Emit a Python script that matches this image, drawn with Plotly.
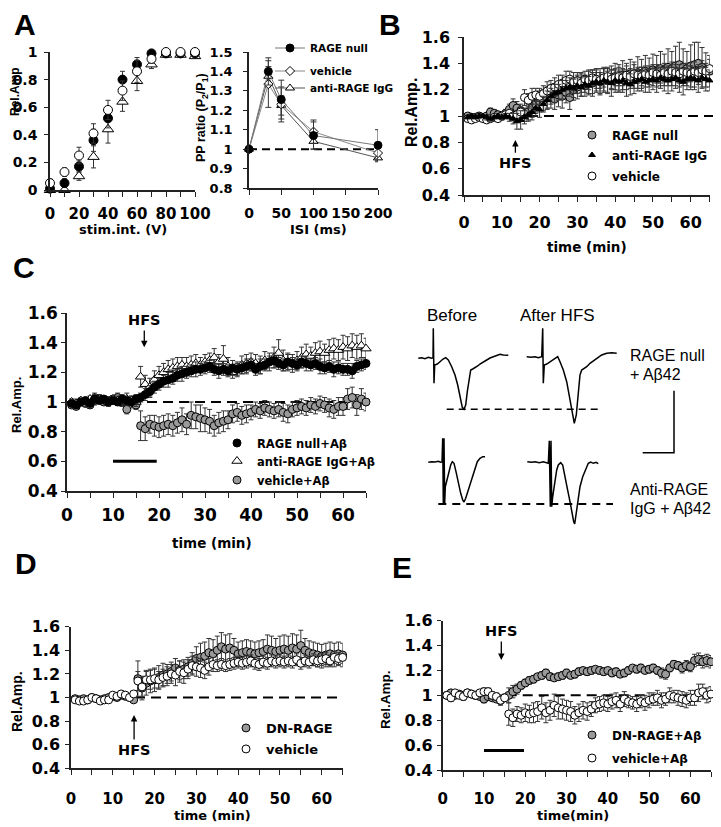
import plotly.graph_objects as go

# The page body keeps its default 8px margin, so the figure is drawn 8px smaller
# and every layout position is given in the reference picture's pixels minus that margin.
PAGE_MARGIN = 8
W, H = 721 - PAGE_MARGIN, 827 - PAGE_MARGIN
def fx(p): return (p - PAGE_MARGIN) / W
def fy(p): return 1 - (p - PAGE_MARGIN) / H

# ---------------- Panel A (left): input/output ----------------
stim_v = [0, 10, 20, 30, 40, 50, 60, 70, 80, 90, 100]
a1_rage = [0.01, 0.05, 0.17, 0.36, 0.52, 0.80, 0.91, 0.99, 0.99, 0.99, 0.99]
a1_rage_err = [0.01, 0.03, 0.04, 0.08, 0.07, 0.06, 0.05, 0.01, 0.01, 0.01, 0.01]
a1_veh = [0.05, 0.13, 0.25, 0.41, 0.58, 0.72, 0.86, 0.95, 1.00, 1.00, 1.00]
a1_veh_err = [0.03, 0.03, 0.06, 0.07, 0.07, 0.07, 0.08, 0.03, 0.01, 0.01, 0.01]
a1_igg = [0.00, 0.00, 0.10, 0.24, 0.44, 0.64, 0.79, 0.91, 0.98, 0.98, 0.97]
a1_igg_err = [0.01, 0.01, 0.03, 0.08, 0.10, 0.07, 0.07, 0.03, 0.01, 0.01, 0.01]

# ---------------- Panel A (right): paired pulse ----------------
isi_ms = [0, 30, 50, 100, 200]
pp_rage = [1.00, 1.40, 1.255, 1.07, 1.02]
pp_rage_err = [0.0, 0.07, 0.10, 0.07, 0.08]
pp_veh = [1.00, 1.335, 1.23, 1.09, 0.98]
pp_veh_err = [0.0, 0.12, 0.09, 0.06, 0.03]
pp_igg = [1.00, 1.375, 1.225, 1.04, 0.955]
pp_igg_err = [0.0, 0.05, 0.05, 0.04, 0.02]

# ---------------- time axis (min) shared by B-E ----------------
time_min = [1, 2, 3, 4, 5, 6, 7, 8, 9, 10, 11, 12, 13, 14, 15, 16, 17, 18, 19, 20,
            21, 22, 23, 24, 25, 26, 27, 28, 29, 30, 31, 32, 33, 34, 35, 36, 37, 38, 39, 40,
            41, 42, 43, 44, 45, 46, 47, 48, 49, 50, 51, 52, 53, 54, 55, 56, 57, 58, 59, 60,
            61, 62, 63, 64, 65]

# ---------------- Panel B ----------------
b_rage = [1.00, 0.99, 0.99, 1.00, 0.99, 1.00, 1.03, 1.02, 1.01, 1.00,
          1.02, 1.05, 1.08, 1.06, 1.04, 1.01, 1.03, 1.06, 1.09, 1.11,
          1.12, 1.14, 1.15, 1.13, 1.16, 1.15, 1.18, 1.14, 1.20, 1.22,
          1.24, 1.23, 1.26, 1.25, 1.27, 1.26, 1.28, 1.27, 1.29, 1.30,
          1.29, 1.31, 1.30, 1.32, 1.31, 1.33, 1.32, 1.34, 1.33, 1.35,
          1.34, 1.36, 1.35, 1.37, 1.36, 1.38, 1.39, 1.37, 1.36, 1.38,
          1.39, 1.40, 1.37, 1.35, 1.34]
b_rage_err = [0.02, 0.02, 0.02, 0.02, 0.02, 0.02, 0.03, 0.03, 0.02, 0.03,
              0.03, 0.04, 0.05, 0.05, 0.05, 0.05, 0.06, 0.07, 0.07, 0.08,
              0.08, 0.08, 0.09, 0.08, 0.09, 0.09, 0.08, 0.09, 0.08, 0.09,
              0.09, 0.08, 0.09, 0.10, 0.09, 0.10, 0.09, 0.10, 0.09, 0.10,
              0.10, 0.11, 0.10, 0.11, 0.10, 0.12, 0.11, 0.12, 0.11, 0.12,
              0.12, 0.13, 0.12, 0.14, 0.13, 0.15, 0.17, 0.14, 0.13, 0.16,
              0.17, 0.16, 0.15, 0.13, 0.12]
b_igg = [0.99, 1.00, 0.99, 1.00, 1.00, 0.99, 0.98, 0.99, 1.00, 0.99,
         1.00, 0.99, 0.98, 0.96, 0.97, 0.99, 1.01, 1.03, 1.06, 1.05,
         1.09, 1.12, 1.15, 1.17, 1.18, 1.20, 1.21, 1.22, 1.21, 1.23,
         1.22, 1.24, 1.23, 1.25, 1.26, 1.25, 1.27, 1.26, 1.25, 1.27,
         1.26, 1.27, 1.25, 1.24, 1.26, 1.27, 1.28, 1.26, 1.27, 1.28,
         1.27, 1.29, 1.28, 1.27, 1.28, 1.29, 1.27, 1.26, 1.28, 1.29,
         1.28, 1.27, 1.29, 1.28, 1.27]
b_igg_err = [0.01, 0.01, 0.01, 0.02, 0.01, 0.02, 0.02, 0.01, 0.02, 0.02,
             0.02, 0.03, 0.04, 0.06, 0.07, 0.05, 0.05, 0.06, 0.06, 0.06,
             0.06, 0.07, 0.06, 0.07, 0.06, 0.07, 0.06, 0.07, 0.07, 0.06,
             0.07, 0.06, 0.07, 0.08, 0.07, 0.08, 0.09, 0.08, 0.10, 0.09,
             0.08, 0.09, 0.10, 0.08, 0.09, 0.08, 0.09, 0.08, 0.09, 0.08,
             0.09, 0.08, 0.09, 0.10, 0.09, 0.08, 0.09, 0.10, 0.08, 0.09,
             0.08, 0.09, 0.08, 0.09, 0.08]
b_veh = [0.98, 0.97, 0.98, 0.99, 0.98, 0.97, 0.98, 0.99, 0.98, 1.00,
         1.01, 1.02, 1.00, 1.01, 1.03, 1.14, 1.12, 1.15, 1.16, 1.15,
         1.17, 1.19, 1.21, 1.22, 1.24, 1.25, 1.27, 1.28, 1.26, 1.27,
         1.25, 1.28, 1.27, 1.29, 1.28, 1.27, 1.29, 1.30, 1.28, 1.29,
         1.30, 1.29, 1.31, 1.30, 1.32, 1.31, 1.30, 1.32, 1.31, 1.33,
         1.32, 1.31, 1.33, 1.32, 1.34, 1.33, 1.32, 1.34, 1.33, 1.32,
         1.34, 1.33, 1.35, 1.34, 1.36]
b_veh_err = [0.02, 0.02, 0.01, 0.02, 0.02, 0.02, 0.01, 0.02, 0.02, 0.02,
             0.02, 0.03, 0.03, 0.03, 0.04, 0.06, 0.05, 0.06, 0.05, 0.06,
             0.06, 0.07, 0.06, 0.07, 0.07, 0.06, 0.07, 0.06, 0.07, 0.06,
             0.07, 0.06, 0.07, 0.06, 0.07, 0.06, 0.07, 0.06, 0.07, 0.06,
             0.07, 0.06, 0.07, 0.06, 0.07, 0.06, 0.07, 0.06, 0.07, 0.06,
             0.07, 0.06, 0.07, 0.06, 0.07, 0.06, 0.07, 0.06, 0.07, 0.06,
             0.07, 0.06, 0.07, 0.06, 0.07]

# ---------------- Panel C ----------------
c_rage = [0.99, 0.98, 1.00, 1.01, 0.99, 1.02, 1.01, 1.02, 1.00, 1.01,
          1.00, 1.02, 1.01, 1.00, 1.02, 1.03, 1.05, 1.07, 1.10, 1.12,
          1.14, 1.15, 1.16, 1.18, 1.19, 1.20, 1.21, 1.22, 1.22, 1.23,
          1.24, 1.22, 1.21, 1.22, 1.21, 1.23, 1.22, 1.23, 1.24, 1.25,
          1.22, 1.24, 1.25, 1.27, 1.28, 1.26, 1.25, 1.27, 1.26, 1.25,
          1.27, 1.26, 1.25, 1.26, 1.24, 1.23, 1.24, 1.22, 1.23, 1.22,
          1.22, 1.21, 1.24, 1.25, 1.26]
c_rage_err = [0.02, 0.02, 0.01, 0.02, 0.02, 0.03, 0.02, 0.02, 0.02, 0.02,
              0.02, 0.03, 0.02, 0.02, 0.03, 0.03, 0.04, 0.04, 0.04, 0.04,
              0.04, 0.05, 0.04, 0.04, 0.05, 0.04, 0.04, 0.05, 0.04, 0.04,
              0.04, 0.04, 0.05, 0.04, 0.04, 0.05, 0.04, 0.04, 0.05, 0.04,
              0.04, 0.05, 0.04, 0.04, 0.05, 0.04, 0.04, 0.05, 0.04, 0.04,
              0.04, 0.05, 0.04, 0.04, 0.05, 0.04, 0.04, 0.05, 0.04, 0.04,
              0.04, 0.05, 0.04, 0.04, 0.04]
c_igg = [1.00, 0.99, 1.01, 1.00, 1.02, 1.03, 1.02, 1.01, 1.00, 1.02,
         1.01, 1.00, 1.02, 1.01, 1.00, 1.17, 1.12, 1.10, 1.15, 1.18,
         1.20, 1.22, 1.23, 1.24, 1.25, 1.24, 1.25, 1.26, 1.25, 1.27,
         1.28, 1.30, 1.27, 1.29, 1.24, 1.20, 1.22, 1.25, 1.26, 1.27,
         1.26, 1.25, 1.28, 1.27, 1.30, 1.33, 1.28, 1.27, 1.26, 1.28,
         1.30, 1.32, 1.31, 1.33, 1.34, 1.33, 1.35, 1.36, 1.35, 1.37,
         1.36, 1.38, 1.37, 1.38, 1.36]
c_igg_err = [0.02, 0.03, 0.02, 0.03, 0.02, 0.03, 0.03, 0.02, 0.03, 0.02,
             0.03, 0.03, 0.04, 0.03, 0.03, 0.07, 0.06, 0.06, 0.06, 0.06,
             0.06, 0.06, 0.06, 0.06, 0.05, 0.06, 0.06, 0.06, 0.05, 0.05,
             0.05, 0.06, 0.05, 0.09, 0.06, 0.04, 0.05, 0.06, 0.06, 0.06,
             0.06, 0.06, 0.06, 0.06, 0.07, 0.09, 0.07, 0.06, 0.06, 0.06,
             0.07, 0.07, 0.06, 0.07, 0.07, 0.06, 0.07, 0.07, 0.07, 0.08,
             0.08, 0.08, 0.08, 0.08, 0.07]
c_veh = [0.98, 0.97, 1.00, 0.99, 0.98, 1.01, 1.02, 1.00, 1.01, 1.02,
         1.03, 1.00, 0.95, 1.00, 0.98, 0.84, 0.82, 0.85, 0.84, 0.83,
         0.84, 0.85, 0.84, 0.86, 0.88, 0.85, 0.91, 0.90, 0.89, 0.88,
         0.87, 0.84, 0.86, 0.87, 0.88, 0.92, 0.93, 0.91, 0.92, 0.93,
         0.95, 0.94, 0.96, 0.95, 0.94, 0.95, 0.93, 0.92, 0.95, 0.96,
         0.97, 0.96, 0.98, 0.97, 0.99, 0.98, 0.96, 0.95, 0.97, 0.97,
         1.02, 1.03, 0.98, 1.02, 1.00]
c_veh_err = [0.02, 0.02, 0.02, 0.02, 0.02, 0.03, 0.03, 0.02, 0.02, 0.02,
             0.03, 0.03, 0.03, 0.04, 0.03, 0.10, 0.08, 0.06, 0.07, 0.07,
             0.07, 0.07, 0.07, 0.07, 0.08, 0.07, 0.09, 0.08, 0.09, 0.08,
             0.08, 0.07, 0.07, 0.07, 0.06, 0.06, 0.06, 0.06, 0.06, 0.05,
             0.05, 0.05, 0.05, 0.05, 0.05, 0.05, 0.06, 0.06, 0.05, 0.05,
             0.05, 0.05, 0.05, 0.05, 0.05, 0.05, 0.06, 0.06, 0.06, 0.06,
             0.07, 0.07, 0.07, 0.07, 0.06]

# ---------------- Panel D ----------------
d_dn = [0.99, 0.98, 0.99, 0.98, 1.00, 0.99, 0.98, 0.99, 1.00, 1.01,
        1.00, 1.02, 1.01, 1.00, 0.98, 1.16, 1.08, 1.12, 1.14, 1.15,
        1.17, 1.19, 1.20, 1.22, 1.25, 1.23, 1.24, 1.26, 1.29, 1.33,
        1.34, 1.35, 1.38, 1.37, 1.40, 1.43, 1.41, 1.42, 1.40, 1.37,
        1.38, 1.39, 1.38, 1.37, 1.38, 1.39, 1.41, 1.40, 1.39, 1.40,
        1.41, 1.40, 1.42, 1.41, 1.44, 1.40, 1.38, 1.37, 1.36, 1.35,
        1.36, 1.37, 1.36, 1.37, 1.36]
d_dn_err = [0.02, 0.02, 0.01, 0.02, 0.02, 0.02, 0.01, 0.02, 0.02, 0.02,
            0.02, 0.02, 0.02, 0.02, 0.02, 0.15, 0.10, 0.10, 0.10, 0.10,
            0.10, 0.10, 0.08, 0.08, 0.08, 0.08, 0.08, 0.08, 0.09, 0.10,
            0.12, 0.12, 0.12, 0.12, 0.12, 0.12, 0.12, 0.12, 0.10, 0.10,
            0.10, 0.10, 0.10, 0.10, 0.10, 0.10, 0.12, 0.12, 0.11, 0.12,
            0.12, 0.12, 0.12, 0.12, 0.13, 0.10, 0.10, 0.10, 0.10, 0.10,
            0.10, 0.10, 0.10, 0.10, 0.10]
d_veh = [0.98, 0.97, 0.97, 0.98, 1.00, 0.99, 0.97, 0.98, 0.98, 1.02,
         1.01, 1.03, 1.02, 1.00, 1.03, 1.14, 1.09, 1.15, 1.15, 1.16,
         1.15, 1.17, 1.18, 1.20, 1.19, 1.22, 1.21, 1.24, 1.27, 1.26,
         1.25, 1.23, 1.26, 1.28, 1.27, 1.28, 1.27, 1.28, 1.29, 1.30,
         1.29, 1.30, 1.31, 1.29, 1.28, 1.30, 1.29, 1.31, 1.30, 1.31,
         1.30, 1.31, 1.30, 1.32, 1.29, 1.31, 1.30, 1.32, 1.31, 1.32,
         1.33, 1.31, 1.34, 1.33, 1.34]
d_veh_err = [0.02, 0.02, 0.02, 0.01, 0.02, 0.02, 0.02, 0.02, 0.01, 0.02,
             0.02, 0.02, 0.02, 0.02, 0.02, 0.08, 0.08, 0.08, 0.08, 0.08,
             0.07, 0.07, 0.08, 0.08, 0.09, 0.09, 0.09, 0.08, 0.08, 0.08,
             0.08, 0.07, 0.07, 0.06, 0.05, 0.05, 0.05, 0.05, 0.05, 0.05,
             0.05, 0.05, 0.05, 0.05, 0.05, 0.05, 0.05, 0.05, 0.05, 0.05,
             0.05, 0.05, 0.05, 0.05, 0.05, 0.05, 0.05, 0.05, 0.05, 0.05,
             0.05, 0.05, 0.05, 0.05, 0.05]

# ---------------- Panel E ----------------
e_dn = [1.00, 1.02, 1.00, 1.01, 1.00, 1.02, 1.01, 1.00, 0.99, 0.97,
        0.99, 0.98, 0.97, 0.96, 0.98, 1.00, 1.03, 1.05, 1.08, 1.10,
        1.12, 1.13, 1.15, 1.16, 1.18, 1.15, 1.14, 1.15, 1.16, 1.18,
        1.16, 1.17, 1.19, 1.20, 1.19, 1.20, 1.21, 1.20, 1.19, 1.20,
        1.18, 1.19, 1.17, 1.18, 1.20, 1.22, 1.21, 1.22, 1.20, 1.21,
        1.22, 1.20, 1.18, 1.17, 1.22, 1.25, 1.24, 1.22, 1.24, 1.23,
        1.28, 1.29, 1.27, 1.28, 1.27]
e_dn_err = [0.02, 0.02, 0.02, 0.02, 0.02, 0.02, 0.02, 0.02, 0.02, 0.03,
            0.02, 0.02, 0.02, 0.03, 0.02, 0.06, 0.05, 0.04, 0.03, 0.03,
            0.03, 0.03, 0.02, 0.03, 0.03, 0.03, 0.02, 0.03, 0.03, 0.03,
            0.02, 0.03, 0.03, 0.02, 0.03, 0.03, 0.02, 0.03, 0.03, 0.02,
            0.03, 0.03, 0.02, 0.03, 0.03, 0.02, 0.03, 0.03, 0.02, 0.03,
            0.03, 0.03, 0.04, 0.04, 0.03, 0.03, 0.03, 0.04, 0.04, 0.04,
            0.05, 0.05, 0.05, 0.05, 0.05]
e_veh = [1.00, 0.98, 1.02, 1.00, 0.99, 1.02, 1.01, 1.00, 1.02, 1.03,
         1.03, 1.00, 0.99, 0.96, 0.98, 0.85, 0.82, 0.85, 0.84, 0.86,
         0.85, 0.86, 0.87, 0.90, 0.86, 0.88, 0.92, 0.90, 0.89, 0.88,
         0.87, 0.84, 0.86, 0.88, 0.87, 0.89, 0.92, 0.93, 0.94, 0.93,
         0.95, 0.96, 0.93, 0.97, 0.95, 0.94, 0.93, 0.95, 0.94, 0.96,
         0.97, 0.98, 0.96, 0.97, 1.00, 0.99, 0.98, 0.97, 0.96, 0.98,
         0.98, 1.02, 1.03, 1.00, 1.01]
e_veh_err = [0.02, 0.03, 0.02, 0.02, 0.03, 0.02, 0.02, 0.03, 0.02, 0.03,
             0.03, 0.03, 0.03, 0.04, 0.03, 0.09, 0.07, 0.06, 0.06, 0.07,
             0.07, 0.08, 0.08, 0.09, 0.08, 0.08, 0.09, 0.09, 0.08, 0.08,
             0.08, 0.07, 0.07, 0.07, 0.07, 0.06, 0.06, 0.06, 0.06, 0.06,
             0.06, 0.06, 0.06, 0.06, 0.05, 0.05, 0.06, 0.05, 0.06, 0.06,
             0.05, 0.06, 0.06, 0.05, 0.06, 0.05, 0.06, 0.06, 0.06, 0.06,
             0.06, 0.07, 0.06, 0.06, 0.06]

# ---------------- Panel C inset: example field potentials ----------------
# units: time (ms, arbitrary) / amplitude (arbitrary, negative = down)
fp_rage_before_t = [18.3, 21.7, 25.0, 28.3, 31.7, 33.0, 33.3, 34.0, 34.7, 37.3, 40.0, 42.7, 45.7, 48.3,
                    51.7, 55.0, 57.7, 60.0, 62.3, 64.0, 65.7, 67.3, 69.0, 70.7, 72.7, 75.0, 77.7, 80.0,
                    83.3, 86.7, 90.0, 93.3, 96.7, 100.0, 103.3, 108.3]
fp_rage_before_v = [-48.3, -47.7, -48.7, -47.3, -48.3, -48.0, -18.3, -73.3, -55.0, -54.0, -51.7, -49.3,
                    -47.7, -50.0, -56.7, -65.0, -75.0, -86.7, -97.3, -99.3, -95.0, -81.7, -68.3, -60.0,
                    -59.0, -57.7, -56.0, -54.0, -52.3, -50.0, -48.0, -46.7, -45.3, -44.3, -45.0, -45.3]
fp_rage_after_t = [126.7, 131.0, 135.0, 138.3, 141.7, 142.7, 143.3, 144.3, 146.7, 150.0, 153.3, 157.7,
                   160.0, 163.3, 166.7, 170.0, 172.3, 174.3, 176.3, 178.3, 180.0, 181.7, 184.3, 186.7,
                   190.0, 193.3, 196.7, 201.7, 206.7, 211.7, 216.7]
fp_rage_after_v = [-46.7, -47.3, -46.7, -47.7, -46.7, -18.3, -73.3, -55.0, -54.0, -52.0, -49.3, -46.7,
                   -51.7, -60.0, -71.7, -88.3, -103.3, -113.3, -105.0, -83.3, -65.0, -60.0, -58.7,
                   -56.7, -53.3, -50.7, -48.3, -45.0, -43.3, -42.7, -43.3]
fp_igg_before_t = [28.3, 31.7, 35.0, 38.3, 40.7, 42.0, 42.7, 43.3, 44.0, 44.7, 45.3, 48.3, 50.7, 52.3,
                   54.0, 56.0, 58.3, 60.7, 62.7, 64.0, 65.7, 68.3, 71.0, 73.3, 75.7, 77.3, 80.0, 82.7, 85.0]
fp_igg_before_v = [-152.3, -151.7, -152.0, -151.3, -152.3, -152.0, -128.3, -193.3, -128.3, -193.3,
                   -176.7, -163.3, -155.0, -151.7, -153.3, -161.7, -173.3, -183.3, -190.0, -192.0,
                   -188.3, -180.0, -171.7, -165.0, -156.7, -151.7, -148.3, -146.7, -146.7]
fp_igg_after_t = [127.3, 131.7, 135.0, 139.3, 143.3, 148.3, 149.3, 150.3, 151.0, 151.7, 152.7, 155.0,
                  156.7, 158.3, 160.7, 162.7, 165.0, 167.3, 170.0, 172.0, 173.7, 174.7, 176.0, 177.7,
                  180.0, 182.7, 185.3, 188.3, 190.7, 193.3, 196.0, 198.3]
fp_igg_after_v = [-151.7, -152.3, -151.7, -152.7, -151.7, -153.3, -130.7, -196.7, -130.7, -196.7,
                  -186.7, -170.0, -160.0, -155.0, -152.7, -155.0, -165.0, -178.3, -191.7, -203.3,
                  -211.7, -214.0, -205.0, -190.0, -176.7, -166.7, -160.0, -153.3, -152.0, -153.3,
                  -152.3, -153.7]
fp_rage_peak_line_t = [46.7, 201.7]
fp_rage_peak_line_v = [-99.3, -99.3]
fp_igg_peak_line_t = [38.3, 213.0]
fp_igg_peak_line_v = [-194.0, -194.0]
scalebar_t = [242.7, 274.0, 274.0]
scalebar_v = [-142.7, -142.7, -80.7]

TIME_Y = [0.4, 1.6]
TIME_X = [0, 65]

fig = go.Figure()

GRAY = '#9a9a9a'
ERRC = '#333333'
BOLD_TICK = 'DejaVu Sans'

def err(arr, w=2.5):
    return dict(type='data', array=arr, color=ERRC, thickness=1, width=w, visible=True)

def add_pts(x, y, e, xa, ya, name, symbol, size, fill, legend=None, showlegend=False):
    fig.add_trace(go.Scatter(
        x=x, y=y, mode='markers', name=name, xaxis=xa, yaxis=ya,
        marker=dict(symbol=symbol, size=size, color=fill, line=dict(color='black', width=1)),
        error_y=err(e), cliponaxis=False, showlegend=showlegend,
        legend=legend if legend else 'legend'))

# Panel A left
add_pts(stim_v, a1_igg, a1_igg_err, 'x', 'y', 'anti-RAGE IgG', 'triangle-up', 10, 'white')
add_pts(stim_v, a1_rage, a1_rage_err, 'x', 'y', 'RAGE null', 'circle', 9, 'black')
add_pts(stim_v, a1_veh, a1_veh_err, 'x', 'y', 'vehicle', 'circle', 9, 'white')

# Panel A right
def add_pp(y, e, name, symbol, size, fill, lcol, legend):
    fig.add_trace(go.Scatter(
        x=isi_ms, y=y, mode='lines+markers', name=name, xaxis='x2', yaxis='y2',
        line=dict(color=lcol, width=1),
        marker=dict(symbol=symbol, size=size, color=fill, line=dict(color='black', width=1)),
        error_y=err(e, 3), cliponaxis=False, legend=legend, showlegend=True))

add_pp(pp_igg, pp_igg_err, 'anti-RAGE IgG', 'triangle-up', 8, 'white', '#555555', 'legend3')
add_pp(pp_veh, pp_veh_err, 'vehicle', 'diamond', 7, 'white', '#888888', 'legend2')
add_pp(pp_rage, pp_rage_err, 'RAGE null', 'circle', 8, 'black', '#777777', 'legend')

# Panel B
add_pts(time_min, b_rage, b_rage_err, 'x3', 'y3', 'RAGE null', 'circle', 8, GRAY, 'legend4', True)
add_pts(time_min, b_veh, b_veh_err, 'x3', 'y3', 'vehicle', 'circle', 8, 'white', 'legend6', True)
add_pts(time_min, b_igg, b_igg_err, 'x3', 'y3', 'anti-RAGE IgG', 'triangle-up', 6, 'black', 'legend5', True)

# Panel C
add_pts(time_min, c_veh, c_veh_err, 'x4', 'y4', 'vehicle+Aβ', 'circle', 8, GRAY, 'legend9', True)
add_pts(time_min, c_igg, c_igg_err, 'x4', 'y4', 'anti-RAGE IgG+Aβ', 'triangle-up', 9, 'white', 'legend8', True)
add_pts(time_min, c_rage, c_rage_err, 'x4', 'y4', 'RAGE null+Aβ', 'circle', 8, 'black', 'legend7', True)

# Panel D
add_pts(time_min, d_dn, d_dn_err, 'x5', 'y5', 'DN-RAGE', 'circle', 8, GRAY, 'legend10', True)
add_pts(time_min, d_veh, d_veh_err, 'x5', 'y5', 'vehicle', 'circle', 8, 'white', 'legend11', True)

# Panel E
add_pts(time_min, e_dn, e_dn_err, 'x6', 'y6', 'DN-RAGE+Aβ', 'circle', 8, GRAY, 'legend12', True)
add_pts(time_min, e_veh, e_veh_err, 'x6', 'y6', 'vehicle+Aβ', 'circle', 8, 'white', 'legend13', True)

# Inset traces
def add_line(t, v, dash=None, width=1.5):
    fig.add_trace(go.Scatter(x=t, y=v, mode='lines', xaxis='x7', yaxis='y7', showlegend=False,
                             line=dict(color='black', width=width, dash=dash), hoverinfo='skip'))
add_line(fp_rage_before_t, fp_rage_before_v)
add_line(fp_rage_after_t, fp_rage_after_v)
add_line(fp_igg_before_t, fp_igg_before_v)
add_line(fp_igg_after_t, fp_igg_after_v)
add_line(fp_rage_peak_line_t, fp_rage_peak_line_v, dash='7px,5px')
add_line(fp_igg_peak_line_t, fp_igg_peak_line_v, dash='8px,6px', width=1.8)
add_line(scalebar_t, scalebar_v)

# ---------------- axes ----------------
def xaxis(px0, px1, rng, dtick, minor, anchor, size, standoff):
    d = dict(domain=[fx(px0), fx(px1)], range=rng, anchor=anchor, showline=True, linecolor='#222',
             linewidth=1.5, ticks='outside', ticklen=5, tickwidth=1.3, tickcolor='#222', dtick=dtick,
             tick0=0, showgrid=False, zeroline=False, ticklabelstandoff=standoff, tickangle=0,
             tickfont=dict(family=BOLD_TICK, size=size, color='black', weight='bold'))
    if minor:
        d['minor'] = dict(dtick=minor, tick0=0, ticks='outside', ticklen=5, tickwidth=1.3,
                          tickcolor='#222', showgrid=False)
    return d

def yaxis(top, bottom, rng, dtick, anchor, size, standoff):
    return dict(domain=[fy(bottom), fy(top)], range=rng, anchor=anchor, showline=True, linecolor='#222',
                linewidth=1.5, ticks='outside', ticklen=4, tickwidth=1.3, tickcolor='#222', dtick=dtick,
                tick0=0, showgrid=False, zeroline=False, ticklabelstandoff=standoff, tickangle=0,
                tickfont=dict(family=BOLD_TICK, size=size, color='black', weight='bold'))

layout = dict(
    width=W, height=H, margin=dict(l=0, r=0, t=0, b=0, autoexpand=False),
    plot_bgcolor='white', paper_bgcolor='white',
    xaxis=xaxis(50, 195, [0, 100], 20, 10, 'y', 15, 4),
    yaxis=yaxis(52, 190, [0, 1], 0.2, 'x', 14, 4),
    xaxis2=xaxis(249, 378, [0, 200], 50, None, 'y2', 14, 6),
    yaxis2=yaxis(52, 188, [0.8, 1.5], 0.1, 'x2', 13, 8),
    xaxis3=xaxis(464, 709.6, TIME_X, 10, 5, 'y3', 16, 7),
    yaxis3=yaxis(37, 195, TIME_Y, 0.2, 'x3', 16, 5),
    xaxis4=xaxis(67, 366, TIME_X, 10, 5, 'y4', 17, 3),
    yaxis4=yaxis(313, 491, TIME_Y, 0.2, 'x4', 17, 0),
    xaxis5=xaxis(71, 342.6, TIME_X, 10, 5, 'y5', 15, 11),
    yaxis5=yaxis(626.7, 768.3, TIME_Y, 0.2, 'x5', 16, 2),
    xaxis6=xaxis(442.7, 711, TIME_X, 10, 5, 'y6', 15, 9),
    yaxis6=yaxis(620.7, 770, TIME_Y, 0.2, 'x6', 16, 1),
    xaxis7=dict(domain=[fx(400), fx(700)], range=[0, 300], visible=False, anchor='y7'),
    yaxis7=dict(domain=[fy(530), fy(310)], range=[-220, 0], visible=False, anchor='x7'),
)

# legends: one per entry so each can be placed where the original puts it
LEG_OFF = 40
def leg(text_x, yc, size):
    return dict(x=fx(text_x - LEG_OFF), y=fy(yc), xanchor='left', yanchor='middle',
                bgcolor='rgba(0,0,0,0)', borderwidth=0, tracegroupgap=0,
                font=dict(family='DejaVu Sans', size=size, color='black', weight='bold'))

layout['legend'] = leg(310, 48, 10.5)
layout['legend2'] = leg(310, 71, 10.5)
layout['legend3'] = leg(310, 88, 10.5)
layout['legend4'] = leg(612, 135, 12)
layout['legend5'] = leg(612, 155, 12)
layout['legend6'] = leg(612, 176, 12)
layout['legend7'] = leg(257, 443, 11.5)
layout['legend8'] = leg(257, 461, 11.5)
layout['legend9'] = leg(257, 480, 11.5)
layout['legend10'] = leg(266, 728, 13)
layout['legend11'] = leg(266, 749, 13)
layout['legend12'] = leg(612, 735, 12)
layout['legend13'] = leg(612, 758, 12)
fig.update_layout(**layout)

# dashed baselines at 1
def baseline(xa, ya, yrng, x1=1.0, width=2, dash='10px,6px', y=1.0):
    frac = (y - yrng[0]) / (yrng[1] - yrng[0])
    fig.add_shape(type='line', xref=f'{xa} domain', yref=f'{ya} domain', x0=0, x1=x1, y0=frac, y1=frac,
                  line=dict(color='black', width=width, dash=dash), layer='below')

baseline('x2', 'y2', [0.8, 1.5], dash='8px,5px')
baseline('x3', 'y3', TIME_Y, x1=1.042)
baseline('x4', 'y4', TIME_Y)
baseline('x5', 'y5', TIME_Y)
baseline('x6', 'y6', TIME_Y)

# A-beta application bars
fig.add_shape(type='line', xref='x4', yref='y4', x0=10, x1=19.5, y0=0.6, y1=0.6, line=dict(color='black', width=3))
fig.add_shape(type='line', xref='x6', yref='y6', x0=10, x1=19.7, y0=0.556, y1=0.556, line=dict(color='black', width=3))

ann = []
def text(x, y, s, size, family='DejaVu Sans', bold=True, xanchor='center', angle=0, xref='paper', yref='paper'):
    if xref == 'paper':
        x, y = fx(x), fy(y)
    ann.append(dict(x=x, y=y, xref=xref, yref=yref, text=s, showarrow=False, xanchor=xanchor,
                    yanchor='middle', textangle=angle,
                    font=dict(family=family, size=size, color='black', weight='bold' if bold else 'normal')))

def hfs(xa, ya, x_head, y_head, y_text):
    # "HFS" label with its arrow pointing at the stimulation time
    ann.append(dict(x=x_head, y=y_head, ax=x_head, ay=y_text, xref=xa, yref=ya, axref=xa, ayref=ya,
                    text='HFS', showarrow=True, arrowhead=2, arrowsize=1, arrowwidth=1.3,
                    arrowcolor='black', standoff=0, startstandoff=1,
                    font=dict(family='DejaVu Sans', size=14.5, color='black', weight='bold')))

# panel letters
for (px, py, s) in [(25, 24, 'A'), (390, 24, 'B'), (24, 267, 'C'), (26, 563, 'D'), (402, 567, 'E')]:
    text(px, py, s, 30, family='Liberation Sans')

# axis titles
text(15, 92, 'Rel.Amp', 12, family='Liberation Sans', angle=-90)
text(123, 230, 'stim.int. (V)', 13)
text(202, 118, 'PP ratio (P<sub>2</sub>/P<sub>1</sub>)', 12.5, family='Liberation Sans', angle=-90)
text(318, 230, 'ISI (ms)', 13)
text(412, 113, 'Rel.Amp.', 16, family='Liberation Sans', angle=-90)
text(587, 247, 'time (min)', 13.5)
text(16, 405, 'Rel.Amp.', 13, family='Liberation Sans', angle=-90)
text(212, 543, 'time (min)', 13.5)
text(17, 702, 'Rel.Amp.', 14, family='Liberation Sans', angle=-90)
text(212, 815, 'time (min)', 13)
text(385, 700, 'Rel.Amp.', 13.5, family='Liberation Sans', angle=-90)
text(573, 815, 'time(min)', 13)

# HFS labels with arrows
hfs('x3', 'y3', 13.6, 0.818, 0.641)
hfs('x4', 'y4', 16.8, 1.369, 1.553)
hfs('x5', 'y5', 15.1, 0.852, 0.555)
hfs('x6', 'y6', 14.2, 1.284, 1.517)

# inset labels
text(451.7, 315, 'Before', 17, family='Liberation Sans', bold=False)
text(557, 315, 'After HFS', 17, family='Liberation Sans', bold=False)
text(628, 355, 'RAGE null', 16, family='Liberation Sans', bold=False, xanchor='left')
text(628, 374, '+ Aβ42', 16, family='Liberation Sans', bold=False, xanchor='left')
text(628, 489, 'Anti-RAGE', 16, family='Liberation Sans', bold=False, xanchor='left')
text(628, 508, 'IgG + Aβ42', 16, family='Liberation Sans', bold=False, xanchor='left')

fig.update_layout(annotations=ann)
fig.write_html('out.html')
